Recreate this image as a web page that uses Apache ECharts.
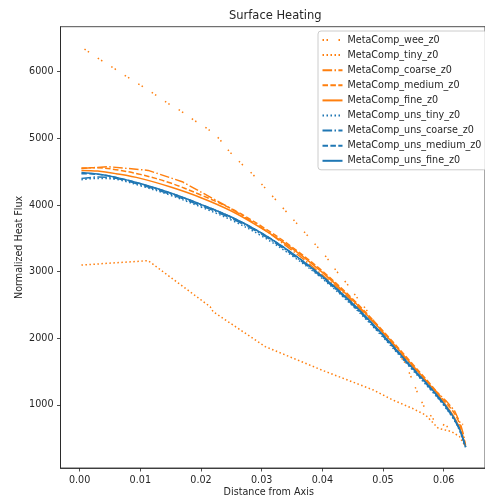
<!DOCTYPE html>
<html>
<head>
<meta charset="utf-8">
<script src="https://cdn.jsdelivr.net/npm/echarts@6/dist/echarts.min.js"></script>
<style>
  html, body { margin: 0; padding: 0; background: #fff; }
  #chart { width: 485px; height: 502px; }
</style>
</head>
<body>
<div id="chart"></div>
<script>
// Surface heating profiles: normalized heat flux vs distance from axis.

const weeX = [0.0008, 0.0035, 0.0057, 0.0078, 0.0100, 0.0123, 0.0144, 0.0167, 0.0188, 0.0211, 0.0230, 0.0247, 0.0266, 0.0285, 0.0325, 0.0365, 0.0406, 0.0424, 0.0440, 0.0456, 0.0472, 0.0500, 0.0535, 0.0546, 0.0556, 0.0567, 0.0583, 0.0605, 0.0632];
const weeY = [6340, 6175, 6050, 5925, 5800, 5665, 5535, 5410, 5275, 5145, 4995, 4800, 4625, 4465, 4060, 3650, 3225, 3000, 2825, 2625, 2435, 2060, 1650, 1425, 1200, 985, 785, 675, 710];

const tinyX = [0.0003, 0.0113, 0.0215, 0.0220, 0.0306, 0.0400, 0.0484, 0.0516, 0.0548, 0.0570, 0.0583, 0.0591, 0.0613, 0.0626, 0.0634];
const tinyY = [3100, 3165, 2475, 2400, 1875, 1520, 1225, 1075, 950, 850, 725, 650, 600, 525, 400];

const coarseX = [0.0003, 0.0048, 0.0113, 0.0169, 0.0247, 0.0310, 0.0370, 0.0430, 0.0490, 0.0540, 0.0580, 0.0605, 0.0618, 0.0627, 0.0633, 0.0636];
const coarseY = [4550, 4575, 4520, 4350, 3960, 3600, 3180, 2720, 2190, 1660, 1270, 1050, 910, 730, 540, 390];

// shared abscissae for the smooth profiles
const fineGridX = [0.0003, 0.003, 0.006, 0.010, 0.015, 0.020, 0.025, 0.030, 0.035, 0.040, 0.045, 0.050, 0.055, 0.058, 0.060, 0.0615, 0.0625, 0.063, 0.0634, 0.0636];

const mediumY    = [4555, 4560, 4530, 4460, 4330, 4150, 3945, 3680, 3370, 3010, 2590, 2110, 1600, 1290, 1070, 910, 745, 585, 450, 380];
const fineY      = [4520, 4510, 4470, 4400, 4270, 4110, 3910, 3650, 3350, 2990, 2570, 2090, 1580, 1270, 1040, 850, 680, 555, 440, 375];
const unsTinyY   = [4380, 4400, 4385, 4290, 4145, 3970, 3775, 3535, 3240, 2895, 2485, 2015, 1510, 1210, 995, 805, 640, 525, 420, 365];
const unsCoarseY = [4400, 4420, 4400, 4305, 4160, 3990, 3800, 3560, 3260, 2910, 2500, 2030, 1525, 1225, 1005, 815, 650, 530, 425, 368];
const unsMediumY = [4470, 4460, 4415, 4320, 4178, 4008, 3818, 3578, 3278, 2928, 2518, 2048, 1538, 1238, 1018, 828, 658, 538, 430, 370];
const unsFineY   = [4490, 4465, 4415, 4322, 4180, 4010, 3820, 3580, 3280, 2930, 2520, 2050, 1540, 1240, 1020, 830, 660, 540, 430, 370];

const xTicks = [0.00, 0.01, 0.02, 0.03, 0.04, 0.05, 0.06];
const yTicks = [1000, 2000, 3000, 4000, 5000, 6000];

const ORANGE = '#ff7f0e';
const BLUE = '#1f77b4';
const FONT = 'DejaVu Sans';
const TEXT = '#262626';

const zip = (xs, ys) => xs.map((x, i) => [x, ys[i]]);

function line(name, xs, ys, color, dash, smooth) {
  return {
    name: name,
    type: 'line',
    data: zip(xs, ys),
    showSymbol: false,
    symbol: 'none',
    smooth: smooth ? 0.35 : false,
    animation: false,
    lineStyle: { color: color, width: 1.5, type: dash },
    itemStyle: { color: color },
    emphasis: { disabled: true }
  };
}

const DOTTED = [1.5, 2.5];
const DASHED = [5.5, 2.4];
const DASHDOT = [9.6, 2.4, 1.5, 2.4];
const SPARSE = [1.5, 2.5, 1.5, 10.5];

const series = [
  line('MetaComp_wee_z0', weeX, weeY, ORANGE, SPARSE, false),
  line('MetaComp_tiny_z0', tinyX, tinyY, ORANGE, DOTTED, false),
  line('MetaComp_coarse_z0', coarseX, coarseY, ORANGE, DASHDOT, false),
  line('MetaComp_medium_z0', fineGridX, mediumY, ORANGE, DASHED, true),
  line('MetaComp_fine_z0', fineGridX, fineY, ORANGE, 'solid', true),
  line('MetaComp_uns_tiny_z0', fineGridX, unsTinyY, BLUE, DOTTED, true),
  line('MetaComp_uns_coarse_z0', fineGridX, unsCoarseY, BLUE, DASHDOT, true),
  line('MetaComp_uns_medium_z0', fineGridX, unsMediumY, BLUE, DASHED, true),
  line('MetaComp_uns_fine_z0', fineGridX, unsFineY, BLUE, 'solid', true)
];

const axisLine = { show: true, onZero: false, lineStyle: { color: '#222', width: 0.8 } };
const axisTick = { show: true, inside: false, length: 3.5, lineStyle: { color: '#222', width: 0.8 } };

const chart = echarts.init(document.getElementById('chart'), null, { renderer: 'canvas' });
chart.setOption({
  animation: false,
  backgroundColor: '#fff',
  title: {
    text: 'Surface Heating',
    left: 229,
    top: 10,
    padding: 0,
    textStyle: { fontFamily: FONT, fontSize: 11.5, fontWeight: 'normal', color: TEXT }
  },
  legend: {
    orient: 'vertical',
    left: 318,
    top: 31,
    padding: [4, 5, 4, 3.5],
    itemWidth: 20,
    itemHeight: 10,
    itemGap: 5.1,
    itemTextGap: 9,
    selectedMode: false,
    backgroundColor: 'rgba(255,255,255,0.8)',
    borderColor: '#cccccc',
    borderWidth: 1,
    borderRadius: 3,
    itemStyle: { opacity: 0, borderWidth: 0 },
    textStyle: { fontFamily: FONT, fontSize: 9.6, color: TEXT },
    data: series.map(s => s.name)
  },
  grid: {
    left: 60.5,
    top: 26.7,
    bottom: 34,
    right: -9,
    show: true,
    borderColor: '#222',
    borderWidth: 0.8,
    backgroundColor: 'transparent',
    containLabel: false
  },
  xAxis: {
    type: 'value',
    min: -0.00315,
    max: 0.0668,
    name: 'Distance from Axis',
    nameLocation: 'middle',
    nameGap: 19,
    nameMoveOverlap: false,
    nameTextStyle: { fontFamily: FONT, fontSize: 9.6, color: TEXT, verticalAlign: 'top', padding: [0, 8, 0, 0] },
    axisLine: axisLine,
    axisTick: Object.assign({ customValues: xTicks }, axisTick),
    axisLabel: {
      customValues: xTicks,
      margin: 7,
      fontFamily: FONT,
      fontSize: 9.6,
      color: TEXT,
      formatter: v => v.toFixed(2)
    },
    splitLine: { show: false }
  },
  yAxis: {
    type: 'value',
    min: 54,
    max: 6676,
    name: 'Normalized Heat Flux',
    nameLocation: 'middle',
    nameGap: 36,
    nameMoveOverlap: false,
    nameRotate: 90,
    nameTextStyle: { fontFamily: FONT, fontSize: 9.6, color: TEXT },
    axisLine: axisLine,
    axisTick: Object.assign({ customValues: yTicks }, axisTick),
    axisLabel: {
      customValues: yTicks,
      margin: 7,
      fontFamily: FONT,
      fontSize: 9.6,
      color: TEXT,
      formatter: v => String(v)
    },
    splitLine: { show: false }
  },
  series: series
});
</script>
</body>
</html>
